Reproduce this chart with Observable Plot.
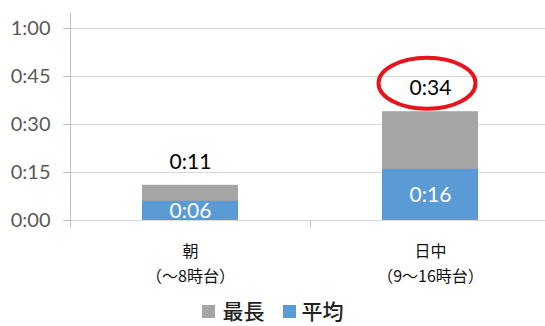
<!DOCTYPE html>
<html>
<head>
<meta charset="utf-8">
<script src="https://cdn.jsdelivr.net/npm/d3@7"></script>
<script src="https://cdn.jsdelivr.net/npm/@observablehq/plot@0.6"></script>
<style>
  html, body { margin: 0; padding: 0; background: #fff; }
  #wrap { position: relative; width: 545px; height: 326px; overflow: hidden; }
  #legend {
    position: absolute; left: 0; top: 299px; width: 545px; height: 22px;
    display: flex; justify-content: center; align-items: center;
    font-family: "Noto Sans CJK JP", sans-serif; font-size: 21px; line-height: 22px;
    font-weight: 500; color: #222;
  }
  #legend .item { display: flex; align-items: center; }
  #legend .item span { display: block; height: 22px; line-height: 22px; }
  #legend .sw { width: 13px; height: 13px; margin-right: 8px; margin-top: 3px; }
  #legend .item + .item { margin-left: 18px; }
  #legend .item + .item .sw { margin-right: 6px; }
</style>
</head>
<body>
<div id="wrap">
  <div id="chart"></div>
  <div id="legend"></div>
</div>
<script>
// Time-of-day categories (line break separates the period from its hours)
const categories = ["朝\n（～8時台）", "日中\n（9～16時台）"];
// Minutes: longest and average per period
const longest = [11, 34];
const average = [6, 16];
// Series names and colours
const seriesNames = ["最長", "平均"];
const seriesColors = ["#A5A5A5", "#5B9BD5"];
// Y-axis ticks, in minutes
const yTicks = [0, 15, 30, 45, 60];

const rows = categories.map((c, i) => ({cat: c, longest: longest[i], average: average[i]}));
const fmt = (m) => `${Math.floor(m / 60)}:${String(m % 60).padStart(2, "0")}`;
const numFont = "Lato, 'Open Sans', sans-serif";

const chart = Plot.plot({
  width: 545,
  height: 300,
  marginLeft: 70,
  marginRight: 0,
  marginTop: 0,
  marginBottom: 80,
  style: {fontFamily: numFont, background: "#fff", overflow: "visible"},
  x: {domain: categories, range: [70, 550], padding: 0, label: null},
  y: {domain: [0, 60], range: [220, 28], label: null},
  marks: [
    Plot.gridY(yTicks, {stroke: "#D9D9D9", strokeOpacity: 1}),
    Plot.axisY({ticks: yTicks, tickFormat: fmt, tickSize: 7, tickPadding: 13,
      fontSize: 20, stroke: "#BFBFBF", fill: "#595959", label: null}),
    Plot.axisX({tickSize: 0, tickPadding: 19, fontSize: 16, lineHeight: 1.55,
      fill: "#111", fontFamily: "'Noto Sans CJK JP', sans-serif", label: null}),
    Plot.barY(rows, {x: "cat", y: "longest", fill: seriesColors[0], insetLeft: 72, insetRight: 72}),
    Plot.barY(rows, {x: "cat", y: "average", fill: seriesColors[1], insetLeft: 72, insetRight: 72}),
    Plot.text(rows, {x: "cat", y: "longest", text: (d) => fmt(d.longest), dy: -23,
      fontSize: 21, fill: "#000", fontFamily: numFont}),
    Plot.text(rows, {x: "cat", y: (d) => d.average / 2, text: (d) => fmt(d.average),
      fontSize: 21, fill: "#fff", fontFamily: numFont})
  ]
});
document.getElementById("chart").appendChild(chart);

// Axis line, category separator tick and the highlight ellipse, placed with the chart's scales
const xs = chart.scale("x"), ys = chart.scale("y");
const svg = d3.select(chart);
const g = svg.append("g").attr("stroke", "#BFBFBF").attr("stroke-width", 1);
const xLeft = xs.range[0] + 0.5;
const yBottom = ys.apply(-2.2) + 0.5;
g.append("line").attr("x1", xLeft).attr("x2", xLeft)
  .attr("y1", ys.apply(64.7)).attr("y2", yBottom);
const xSep = xs.apply(categories[1]) + 0.5;
g.append("line").attr("x1", xSep).attr("x2", xSep)
  .attr("y1", ys.apply(0) + 0.5).attr("y2", yBottom);

svg.append("ellipse")
  .attr("cx", xs.apply(categories[1]) + xs.bandwidth / 2 - 3)
  .attr("cy", ys.apply(longest[1]) - 28)
  .attr("rx", 48.5).attr("ry", 25.5)
  .attr("fill", "none").attr("stroke", "#E8141B").attr("stroke-width", 4);

// Legend below the chart
const legend = d3.select("#legend");
seriesNames.forEach((name, i) => {
  const item = legend.append("div").attr("class", "item");
  item.append("div").attr("class", "sw").style("background", seriesColors[i]);
  item.append("span").text(name);
});
</script>
</body>
</html>
